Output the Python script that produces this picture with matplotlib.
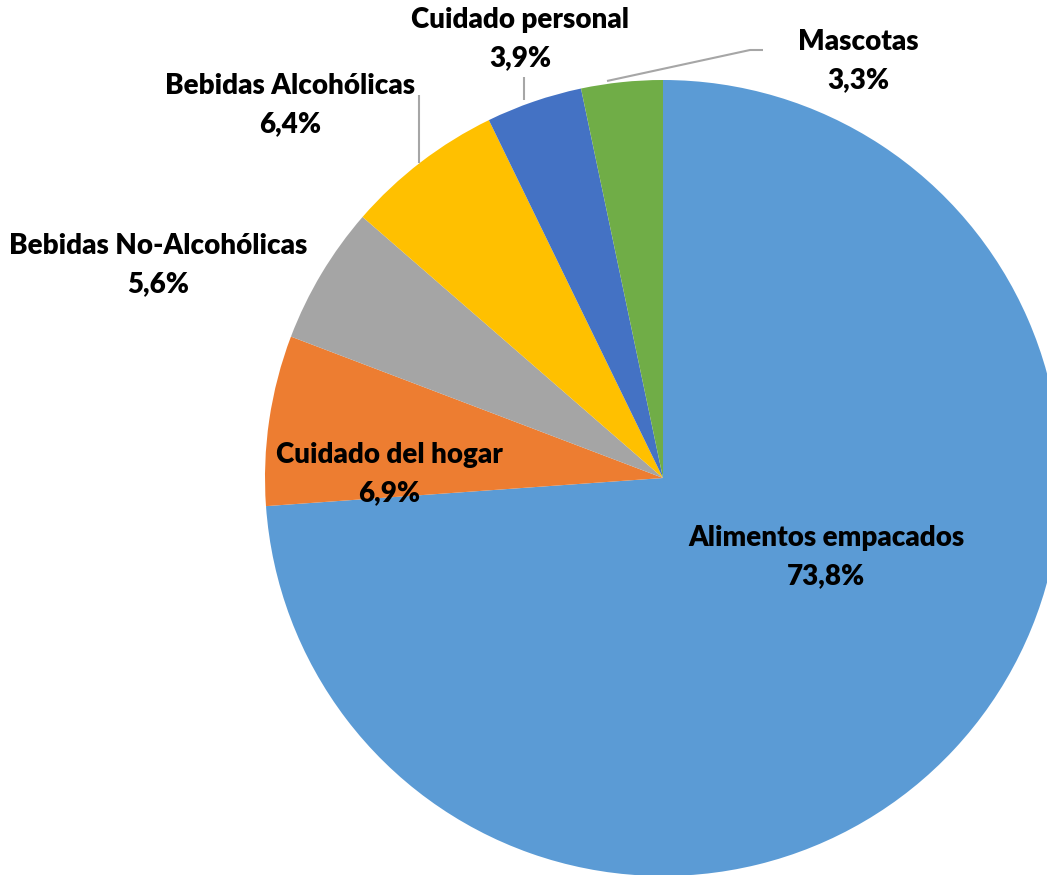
import matplotlib
matplotlib.use("Agg")
import matplotlib.pyplot as plt
import numpy as np

categories = ["Alimentos empacados", "Cuidado del hogar", "Bebidas No-Alcohólicas",
              "Bebidas Alcohólicas", "Cuidado personal", "Mascotas"]
values = [73.8, 6.9, 5.6, 6.4, 3.9, 3.3]
value_labels = ["73,8%", "6,9%", "5,6%", "6,4%", "3,9%", "3,3%"]
colors = ["#5B9BD5", "#ED7D31", "#A5A5A5", "#FFC000", "#4472C4", "#70AD47"]

W, H = 1047, 875
CX, CY, R = 663, 478, 398  # pixel layout

fig = plt.figure(figsize=(W / 100, H / 100), dpi=100)
ax = fig.add_axes([0, 0, 1, 1])
ax.axis("off")

def px(x, y):
    return ((x - CX) / R, (CY - y) / R)

ax.pie(values, colors=colors, startangle=90, counterclock=False, radius=1,
       wedgeprops=dict(linewidth=0))
ax.set_xlim(-CX / R, (W - CX) / R)
ax.set_ylim(-(H - CY) / R, CY / R)
ax.set_aspect("auto")

label_px = [(826, 538), (389, 455), (158, 246), (290, 86), (520, 20), (858, 42)]
font = dict(family="Lato", fontweight="heavy", fontsize=20, color="#000000")
for cat, vl, (lx, ly) in zip(categories, value_labels, label_px):
    x0, y0 = px(lx, ly)
    x1, y1 = px(lx, ly + 38)
    ax.text(x0, y0, cat, ha="center", va="center", **font)
    ax.text(x1, y1, vl, ha="center", va="center", **font)

# leader lines
lc = "#A6A6A6"
for pts in [[(419, 163), (419, 95)], [(524, 100), (524, 77)],
            [(607, 81), (750, 50), (763, 50)]]:
    xs, ys = zip(*[px(a, b) for a, b in pts])
    ax.plot(xs, ys, color=lc, linewidth=1.5, solid_capstyle="butt")

fig.savefig("out.png", dpi=100, facecolor="white")
